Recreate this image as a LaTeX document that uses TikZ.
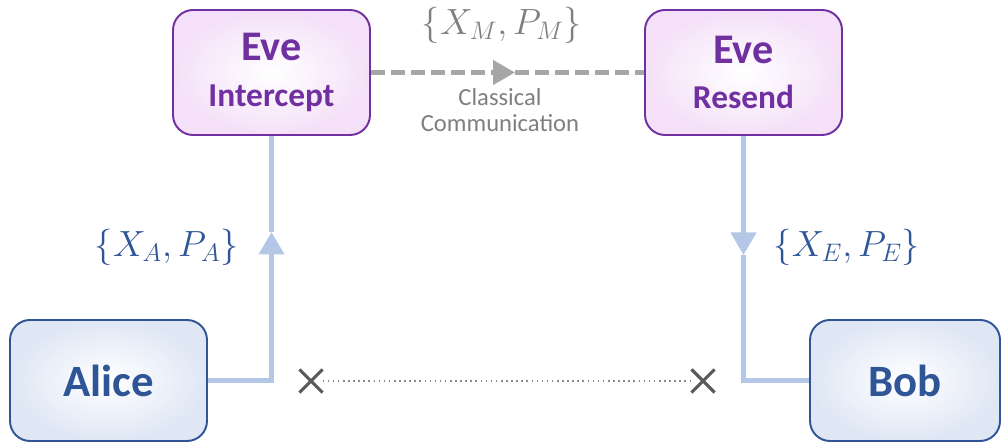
\documentclass[tikz,border=0pt]{standalone}
\usepackage{fontspec}
\setmainfont{Carlito}
\usetikzlibrary{arrows.meta,shapes.misc}
\definecolor{evepurple}{HTML}{7030A0}
\definecolor{evefill}{HTML}{F4E0F8}
\definecolor{userblue}{HTML}{2F5597}
\definecolor{userfill}{HTML}{DFE7F5}
\definecolor{qblue}{HTML}{B4C7E7}
\definecolor{cgrey}{HTML}{A6A6A6}
\definecolor{tgrey}{HTML}{7F7F7F}
\definecolor{xgrey}{HTML}{595959}

\begin{document}
\begin{tikzpicture}[
    evebox/.style={draw=evepurple, line width=1.1pt, rounded corners=0.4cm,
      inner color=white, outer color=evefill, minimum width=3.94cm,
      minimum height=2.5cm, align=center, text=evepurple,
      font=\fontsize{24}{26}\selectfont\bfseries},
    userbox/.style={draw=userblue, line width=1.1pt, rounded corners=0.4cm,
      inner color=white, outer color=userfill, minimum width=3.94cm,
      minimum height=2.42cm, text=userblue,
      font=\fontsize{25.5}{28}\selectfont\bfseries},
    qline/.style={draw=qblue, line width=2.3pt},
    qtip/.style={qline, -{Triangle[width=0.5cm,length=0.45cm]}},
    lost/.style={cross out, draw=xgrey, line width=1.8pt, minimum size=0.4cm,
      inner sep=0pt},
    qlabel/.style={text=userblue, font=\fontsize{20}{24}\selectfont}
  ]
  \useasboundingbox (0,0) rectangle (20.04,8.96);

  % parties
  \node[evebox]  (eveI) at (5.43,7.51)
    {Eve\\{\fontsize{19}{22}\selectfont Intercept}};
  \node[evebox]  (eveR) at (14.87,7.51)
    {Eve\\{\fontsize{19}{22}\selectfont Resend}};
  \node[userbox] (alice) at (2.17,1.35) {Alice};
  \node[userbox, minimum width=3.8cm] (bob) at (18.1,1.35) {Bob};

  % quantum channel
  \coordinate (aTip) at (5.43,4.32);
  \coordinate (bTip) at (14.87,3.86);
  \draw[qtip] (alice.east) -| (aTip);
  \draw[qline] (aTip) -- (eveI.south);
  \draw[qtip] (eveR.south) -- (bTip);
  \draw[qline] (bTip) |- (bob.west);

  \node[qlabel, anchor=east] (labA) at (4.9,4.02) {$\{X_A,P_A\}$};
  \node[qlabel, anchor=west] (labE) at (15.35,4.02) {$\{X_E,P_E\}$};

  % classical channel
  \coordinate (cTip) at (10.3,7.51);
  \draw[draw=cgrey, line width=2.6pt, dash pattern=on 0.28cm off 0.12cm,
    -{Triangle[width=0.48cm,length=0.44cm]}] (eveI.east) -- (cTip);
  \draw[draw=cgrey, line width=2.6pt, dash pattern=on 0.28cm off 0.12cm]
    (cTip) -- (eveR.west);
  \node[text=tgrey, font=\fontsize{20}{24}\selectfont] (labM) at (10.04,8.46)
    {$\{X_M,P_M\}$};
  \node[text=tgrey, align=center, font=\fontsize{14}{14.5}\selectfont] (cc)
    at (10.0,6.76) {Classical\\Communication};

  % blocked direct link
  \node[lost] (xA) at (6.22,1.34) {};
  \node[lost] (xB) at (14.06,1.34) {};
  \draw[xgrey!70, line width=0.9pt, dotted] (xA) -- (xB);
\end{tikzpicture}
\end{document}
